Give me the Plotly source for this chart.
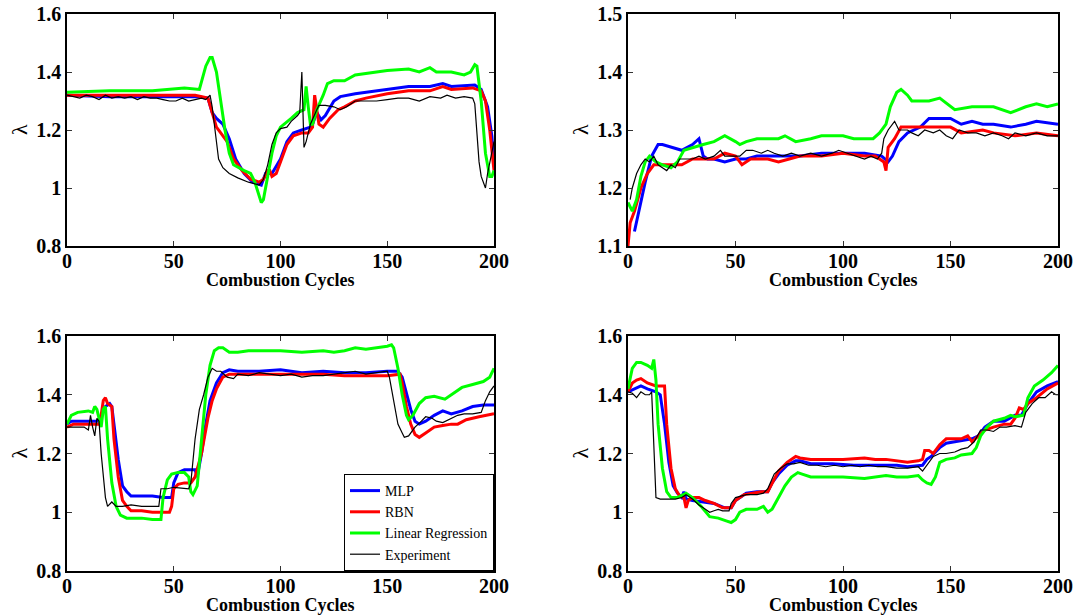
import plotly.graph_objects as go

# ---------------- DATA ----------------
# Panel 1 (top-left)
p1_mlp_x = [0, 20, 40, 60, 66, 68, 70, 73, 76, 79, 83, 87, 91, 93, 96, 100, 103, 106, 110, 114, 115, 117, 119, 121, 125, 128, 135, 140, 150, 160, 170, 176, 180, 188, 191, 194, 197, 199, 200]
p1_mlp_y = [1.32, 1.315, 1.315, 1.315, 1.31, 1.26, 1.24, 1.22, 1.17, 1.10, 1.05, 1.02, 1.01, 1.05, 1.05, 1.10, 1.16, 1.19, 1.20, 1.21, 1.22, 1.26, 1.235, 1.25, 1.30, 1.315, 1.325, 1.33, 1.34, 1.35, 1.35, 1.36, 1.35, 1.355, 1.355, 1.34, 1.28, 1.18, 1.08]
p1_rbn_x = [0, 20, 50, 60, 66, 68, 70, 72, 75, 78, 82, 86, 90, 92, 94, 95, 96, 98, 100, 103, 106, 110, 113, 115, 116, 117, 118, 120, 123, 127, 130, 135, 140, 150, 160, 170, 176, 180, 190, 194, 196, 198, 200]
p1_rbn_y = [1.32, 1.32, 1.32, 1.32, 1.31, 1.26, 1.21, 1.19, 1.16, 1.10, 1.06, 1.03, 1.02, 1.03, 1.06, 1.06, 1.04, 1.05, 1.09, 1.15, 1.18, 1.19, 1.19, 1.21, 1.32, 1.26, 1.22, 1.21, 1.24, 1.27, 1.28, 1.30, 1.31, 1.325, 1.335, 1.335, 1.35, 1.34, 1.345, 1.335, 1.30, 1.20, 1.06]
p1_lr_x = [0, 20, 40, 55, 62, 63, 65, 67, 68, 70, 72, 74, 76, 78, 83, 86, 88, 90, 91, 92, 94, 96, 98, 100, 105, 108, 111, 112, 113, 114, 115, 117, 120, 122, 125, 130, 135, 140, 150, 160, 165, 170, 173, 180, 186, 189, 191, 192, 194, 196, 198, 199, 200]
p1_lr_y = [1.33, 1.335, 1.335, 1.345, 1.34, 1.37, 1.42, 1.45, 1.45, 1.40, 1.30, 1.20, 1.12, 1.08, 1.06, 1.05, 1.02, 0.97, 0.95, 0.96, 1.04, 1.12, 1.18, 1.21, 1.24, 1.26, 1.27, 1.35, 1.28, 1.22, 1.22, 1.27, 1.32, 1.36, 1.37, 1.37, 1.39, 1.395, 1.405, 1.41, 1.40, 1.415, 1.40, 1.40, 1.39, 1.40, 1.425, 1.42, 1.30, 1.12, 1.04, 1.04, 1.06]
p1_exp_x = [0, 3, 6, 9, 12, 15, 18, 21, 24, 27, 30, 33, 36, 39, 42, 45, 48, 51, 54, 57, 60, 63, 65, 67, 68, 69, 70, 71, 73, 76, 80, 85, 90, 92, 94, 96, 98, 100, 103, 105, 108, 109, 110, 111, 112, 114, 117, 118, 121, 125, 128, 131, 135, 140, 145, 150, 155, 160, 165, 170, 175, 178, 182, 186, 190, 191, 192, 193, 194, 196, 197, 200]
p1_exp_y = [1.32, 1.315, 1.31, 1.32, 1.315, 1.305, 1.32, 1.31, 1.315, 1.31, 1.315, 1.305, 1.315, 1.31, 1.31, 1.305, 1.30, 1.30, 1.31, 1.30, 1.305, 1.31, 1.305, 1.32, 1.28, 1.22, 1.16, 1.10, 1.07, 1.05, 1.035, 1.02, 1.01, 1.03, 1.08, 1.15, 1.19, 1.205, 1.21, 1.23, 1.25, 1.26, 1.40, 1.14, 1.16, 1.22, 1.27, 1.285, 1.285, 1.28, 1.27, 1.28, 1.30, 1.30, 1.30, 1.305, 1.31, 1.31, 1.30, 1.315, 1.31, 1.32, 1.31, 1.315, 1.31, 1.29, 1.20, 1.09, 1.04, 1.00, 1.05, 1.16]

# Panel 2 (top-right)
p2_mlp_x = [3, 5, 8, 11, 14, 16, 20, 25, 30, 33, 35, 37, 40, 45, 50, 55, 60, 70, 80, 90, 100, 110, 118, 121, 123, 126, 130, 133, 136, 140, 145, 150, 155, 160, 165, 170, 178, 185, 190, 200]
p2_mlp_y = [1.125, 1.16, 1.21, 1.255, 1.275, 1.275, 1.27, 1.265, 1.275, 1.285, 1.255, 1.25, 1.25, 1.245, 1.25, 1.25, 1.255, 1.255, 1.255, 1.26, 1.26, 1.26, 1.255, 1.245, 1.255, 1.28, 1.295, 1.30, 1.305, 1.32, 1.32, 1.32, 1.31, 1.315, 1.31, 1.31, 1.305, 1.31, 1.315, 1.31]
p2_rbn_x = [0, 1, 3, 6, 9, 12, 16, 20, 25, 30, 35, 40, 45, 50, 53, 57, 65, 70, 75, 80, 90, 100, 110, 115, 119, 120, 121, 124, 127, 135, 140, 150, 155, 165, 170, 180, 190, 200]
p2_rbn_y = [1.10, 1.14, 1.16, 1.20, 1.225, 1.24, 1.24, 1.24, 1.24, 1.25, 1.25, 1.25, 1.26, 1.255, 1.24, 1.25, 1.25, 1.245, 1.25, 1.255, 1.255, 1.26, 1.255, 1.255, 1.245, 1.23, 1.27, 1.285, 1.305, 1.305, 1.305, 1.305, 1.295, 1.30, 1.295, 1.29, 1.295, 1.29]
p2_lr_x = [0, 2, 4, 6, 8, 10, 13, 16, 20, 23, 26, 30, 35, 40, 45, 50, 52, 55, 60, 65, 70, 73, 78, 85, 90, 100, 105, 110, 114, 117, 120, 122, 125, 127, 130, 132, 140, 145, 150, 152, 160, 170, 178, 185, 190, 195, 200]
p2_lr_y = [1.175, 1.16, 1.18, 1.22, 1.245, 1.255, 1.245, 1.24, 1.235, 1.245, 1.265, 1.27, 1.275, 1.28, 1.29, 1.28, 1.275, 1.28, 1.285, 1.285, 1.285, 1.29, 1.28, 1.285, 1.29, 1.29, 1.285, 1.285, 1.285, 1.295, 1.31, 1.34, 1.365, 1.37, 1.36, 1.35, 1.35, 1.355, 1.34, 1.335, 1.34, 1.34, 1.33, 1.34, 1.345, 1.34, 1.345]
p2_exp_x = [1, 2, 4, 6, 8, 10, 12, 14, 16, 18, 20, 22, 24, 26, 30, 33, 36, 40, 43, 45, 48, 52, 55, 58, 62, 65, 68, 72, 76, 80, 85, 90, 95, 98, 102, 106, 110, 113, 116, 118, 119, 121, 124, 126, 130, 132, 135, 138, 142, 145, 148, 151, 154, 158, 162, 166, 170, 174, 177, 180, 185, 190, 195, 200]
p2_exp_y = [1.18, 1.20, 1.225, 1.24, 1.25, 1.245, 1.255, 1.24, 1.235, 1.23, 1.24, 1.235, 1.25, 1.25, 1.25, 1.255, 1.25, 1.255, 1.265, 1.255, 1.255, 1.255, 1.265, 1.265, 1.26, 1.265, 1.26, 1.255, 1.26, 1.255, 1.26, 1.255, 1.26, 1.265, 1.26, 1.255, 1.25, 1.255, 1.25, 1.26, 1.285, 1.30, 1.315, 1.30, 1.30, 1.295, 1.29, 1.30, 1.295, 1.30, 1.29, 1.285, 1.30, 1.295, 1.295, 1.29, 1.295, 1.29, 1.285, 1.295, 1.29, 1.295, 1.29, 1.29]

# Panel 3 (bottom-left)
p3_mlp_x = [0, 2, 10, 15, 16, 18, 20, 21, 22, 24, 26, 28, 30, 35, 40, 45, 49, 50, 52, 55, 58, 60, 61, 63, 65, 67, 70, 73, 76, 80, 90, 100, 110, 120, 130, 140, 150, 155, 157, 159, 161, 163, 165, 168, 172, 176, 180, 185, 190, 195, 200]
p3_mlp_y = [1.30, 1.31, 1.31, 1.31, 1.33, 1.36, 1.37, 1.36, 1.30, 1.18, 1.09, 1.07, 1.055, 1.055, 1.055, 1.05, 1.05, 1.10, 1.135, 1.145, 1.145, 1.145, 1.12, 1.20, 1.30, 1.38, 1.44, 1.475, 1.485, 1.48, 1.48, 1.485, 1.475, 1.48, 1.475, 1.475, 1.48, 1.48, 1.46, 1.40, 1.35, 1.31, 1.30, 1.31, 1.33, 1.345, 1.335, 1.345, 1.36, 1.365, 1.365]
p3_rbn_x = [0, 3, 15, 16, 17, 18, 19, 21, 22, 24, 26, 28, 30, 35, 40, 45, 48, 49, 50, 52, 55, 58, 60, 63, 66, 68, 70, 73, 76, 80, 100, 120, 130, 140, 150, 156, 157, 159, 161, 163, 165, 168, 172, 176, 180, 183, 187, 193, 200]
p3_rbn_y = [1.29, 1.30, 1.30, 1.33, 1.38, 1.39, 1.37, 1.36, 1.25, 1.12, 1.04, 1.02, 1.005, 1.005, 1.0, 1.0, 1.0, 1.02, 1.08, 1.095, 1.10, 1.10, 1.12, 1.20, 1.32, 1.38, 1.42, 1.46, 1.47, 1.47, 1.47, 1.47, 1.465, 1.465, 1.465, 1.47, 1.44, 1.36, 1.30, 1.265, 1.255, 1.27, 1.29, 1.295, 1.30, 1.30, 1.315, 1.325, 1.335]
p3_lr_x = [0, 2, 5, 10, 12, 13, 14, 15, 16, 17, 18, 19, 21, 23, 25, 28, 35, 40, 44, 45, 47, 49, 52, 55, 57, 58, 59, 61, 63, 65, 67, 69, 71, 73, 76, 80, 85, 90, 100, 110, 120, 125, 130, 135, 140, 145, 150, 152, 153, 155, 157, 159, 160, 162, 165, 168, 172, 177, 180, 185, 190, 195, 198, 200]
p3_lr_y = [1.30, 1.33, 1.34, 1.345, 1.34, 1.36, 1.35, 1.32, 1.29, 1.35, 1.36, 1.25, 1.10, 1.02, 0.99, 0.98, 0.98, 0.975, 0.975, 1.05, 1.11, 1.13, 1.135, 1.135, 1.12, 1.07, 1.06, 1.09, 1.25, 1.40, 1.50, 1.55, 1.56, 1.56, 1.545, 1.545, 1.55, 1.55, 1.55, 1.545, 1.55, 1.545, 1.55, 1.56, 1.555, 1.56, 1.565, 1.57, 1.56, 1.49, 1.40, 1.33, 1.315, 1.33, 1.37, 1.39, 1.395, 1.385, 1.40, 1.425, 1.435, 1.445, 1.46, 1.49]
p3_exp_x = [0, 5, 8, 10, 11, 12, 13, 14, 15, 16, 18, 19, 21, 23, 26, 30, 35, 40, 43, 44, 47, 50, 55, 57, 58, 60, 62, 64, 66, 68, 70, 72, 75, 78, 80, 85, 90, 95, 100, 105, 110, 115, 120, 125, 130, 135, 140, 145, 150, 151, 153, 155, 157, 158, 160, 163, 166, 168, 171, 173, 176, 180, 183, 186, 190, 194, 196, 198, 200]
p3_exp_y = [1.29, 1.29, 1.29, 1.28, 1.33, 1.29, 1.26, 1.32, 1.31, 1.20, 1.05, 1.02, 1.035, 1.02, 1.02, 1.025, 1.02, 1.02, 1.02, 1.08, 1.08, 1.085, 1.08, 1.08, 1.10, 1.25, 1.35, 1.40, 1.46, 1.49, 1.48, 1.48, 1.46, 1.455, 1.47, 1.465, 1.475, 1.47, 1.465, 1.47, 1.46, 1.465, 1.465, 1.47, 1.475, 1.48, 1.47, 1.475, 1.48, 1.46, 1.38, 1.30, 1.27, 1.255, 1.26, 1.29, 1.31, 1.325, 1.32, 1.31, 1.305, 1.32, 1.33, 1.335, 1.335, 1.34, 1.38, 1.41, 1.43]

# Panel 4 (bottom-right)
p4_mlp_x = [0, 3, 6, 9, 13, 15, 17, 19, 21, 23, 25, 26, 27, 30, 35, 40, 45, 48, 50, 55, 60, 65, 67, 70, 74, 78, 80, 85, 95, 105, 115, 125, 130, 135, 137, 139, 141, 145, 148, 152, 156, 160, 163, 166, 170, 175, 180, 183, 186, 190, 195, 200]
p4_mlp_y = [1.41, 1.42, 1.43, 1.42, 1.41, 1.40, 1.30, 1.17, 1.09, 1.065, 1.05, 1.07, 1.045, 1.04, 1.035, 1.03, 1.015, 1.015, 1.04, 1.065, 1.07, 1.07, 1.10, 1.13, 1.16, 1.175, 1.175, 1.165, 1.165, 1.16, 1.16, 1.16, 1.155, 1.16, 1.16, 1.18, 1.19, 1.22, 1.235, 1.24, 1.245, 1.25, 1.26, 1.29, 1.31, 1.31, 1.33, 1.33, 1.37, 1.41, 1.43, 1.445]
p4_rbn_x = [0, 2, 4, 6, 9, 13, 15, 17, 18, 20, 22, 24, 26, 27, 28, 30, 33, 36, 40, 44, 48, 50, 54, 58, 62, 65, 67, 70, 74, 78, 80, 85, 90, 100, 110, 115, 120, 125, 130, 135, 137, 138, 140, 142, 145, 148, 152, 155, 158, 160, 163, 166, 170, 175, 178, 180, 182, 184, 186, 190, 195, 200]
p4_rbn_y = [1.41, 1.44, 1.45, 1.455, 1.44, 1.43, 1.43, 1.43, 1.30, 1.15, 1.08, 1.055, 1.05, 1.015, 1.04, 1.05, 1.05, 1.04, 1.03, 1.015, 1.015, 1.04, 1.06, 1.065, 1.07, 1.07, 1.10, 1.14, 1.17, 1.19, 1.185, 1.18, 1.18, 1.18, 1.185, 1.18, 1.18, 1.175, 1.17, 1.175, 1.18, 1.21, 1.21, 1.20, 1.23, 1.25, 1.25, 1.25, 1.26, 1.24, 1.26, 1.28, 1.29, 1.30, 1.30, 1.32, 1.355, 1.35, 1.37, 1.39, 1.42, 1.44]
p4_lr_x = [0, 2, 4, 6, 9, 11, 12, 13, 14, 16, 18, 20, 23, 27, 30, 34, 38, 42, 46, 48, 50, 52, 55, 60, 63, 65, 67, 70, 73, 76, 79, 81, 85, 90, 100, 110, 115, 120, 125, 130, 135, 137, 139, 141, 143, 145, 148, 152, 155, 160, 162, 164, 167, 170, 175, 178, 180, 184, 186, 189, 193, 197, 200]
p4_lr_y = [1.42, 1.49, 1.51, 1.51, 1.50, 1.49, 1.52, 1.45, 1.30, 1.15, 1.07, 1.05, 1.05, 1.065, 1.05, 1.02, 0.985, 0.98, 0.97, 0.965, 0.975, 1.0, 1.01, 1.01, 1.02, 1.0, 1.01, 1.05, 1.09, 1.12, 1.135, 1.13, 1.12, 1.12, 1.12, 1.115, 1.12, 1.125, 1.12, 1.12, 1.125, 1.11, 1.10, 1.095, 1.12, 1.17, 1.18, 1.185, 1.195, 1.20, 1.22, 1.26, 1.29, 1.31, 1.32, 1.33, 1.325, 1.33, 1.39, 1.43, 1.45, 1.475, 1.50]
p4_exp_x = [0, 2, 4, 6, 8, 10, 11, 12, 13, 15, 18, 22, 25, 27, 30, 33, 36, 38, 40, 42, 44, 47, 48, 50, 55, 60, 63, 65, 68, 71, 74, 77, 80, 84, 88, 92, 96, 100, 104, 108, 112, 116, 120, 125, 130, 135, 137, 139, 142, 145, 148, 152, 155, 158, 161, 164, 167, 170, 173, 176, 180, 183, 185, 188, 191, 194, 197, 199, 200]
p4_exp_y = [1.41, 1.405, 1.39, 1.41, 1.40, 1.40, 1.41, 1.25, 1.05, 1.045, 1.045, 1.045, 1.05, 1.06, 1.045, 1.025, 1.01, 1.0, 1.005, 1.01, 1.005, 1.005, 1.03, 1.05, 1.06, 1.06, 1.065, 1.08, 1.13, 1.15, 1.165, 1.165, 1.17, 1.16, 1.16, 1.155, 1.16, 1.155, 1.16, 1.155, 1.16, 1.155, 1.155, 1.15, 1.15, 1.155, 1.14, 1.16, 1.19, 1.20, 1.20, 1.205, 1.215, 1.22, 1.24, 1.28, 1.28, 1.275, 1.29, 1.29, 1.295, 1.29, 1.34, 1.37, 1.39, 1.39, 1.41, 1.40, 1.40]

series_names = ["MLP", "RBN", "Linear Regression", "Experiment"]
series_colors = ["#0000FF", "#FF0000", "#00FF00", "#000000"]
series_widths = [3, 3, 3, 1.2]

x_ticks = [0, 50, 100, 150, 200]
y_ticks_a = [0.8, 1.0, 1.2, 1.4, 1.6]
y_tick_text_a = ["0.8", "1", "1.2", "1.4", "1.6"]
y_ticks_b = [1.1, 1.2, 1.3, 1.4, 1.5]
y_tick_text_b = ["1.1", "1.2", "1.3", "1.4", "1.5"]
x_title = "Combustion Cycles"
y_title = "λ"

panels = [
    [(p1_mlp_x, p1_mlp_y), (p1_rbn_x, p1_rbn_y), (p1_lr_x, p1_lr_y), (p1_exp_x, p1_exp_y)],
    [(p2_mlp_x, p2_mlp_y), (p2_rbn_x, p2_rbn_y), (p2_lr_x, p2_lr_y), (p2_exp_x, p2_exp_y)],
    [(p3_mlp_x, p3_mlp_y), (p3_rbn_x, p3_rbn_y), (p3_lr_x, p3_lr_y), (p3_exp_x, p3_exp_y)],
    [(p4_mlp_x, p4_mlp_y), (p4_rbn_x, p4_rbn_y), (p4_lr_x, p4_lr_y), (p4_exp_x, p4_exp_y)],
]

# ---------------- FIGURE ----------------
W, H = 1080, 616
FONT = "Liberation Serif"

# pixel boxes (left, right, top, bottom)
boxes = [(67, 494, 14, 246), (628, 1058, 14, 246), (67, 494, 336, 571), (628, 1058, 336, 571)]

fig = go.Figure()
annotations = []
layout = dict(
    width=W, height=H, margin=dict(l=0, r=0, t=0, b=0, autoexpand=False),
    paper_bgcolor="white", plot_bgcolor="white",
    font=dict(family=FONT, color="black"),
    showlegend=True,
    legend=dict(
        x=494 / W, y=1 - 571 / H, xanchor="right", yanchor="bottom",
        bgcolor="white", bordercolor="black", borderwidth=1,
        font=dict(family=FONT, size=14, color="black"),
        tracegroupgap=0, itemwidth=30,
    ),
)

for i, panel in enumerate(panels):
    ax = "" if i == 0 else str(i + 1)
    for j, (xs, ys) in enumerate(panel):
        fig.add_trace(go.Scatter(
            x=xs, y=ys, mode="lines", name=series_names[j],
            line=dict(color=series_colors[j], width=series_widths[j]),
            xaxis="x" + ax, yaxis="y" + ax,
            showlegend=(i == 2),
        ))
    l, r, t, b = boxes[i]
    if i == 1:
        yr, yt, ytt = [1.1, 1.5], y_ticks_b, y_tick_text_b
    else:
        yr, yt, ytt = [0.8, 1.6], y_ticks_a, y_tick_text_a
    common = dict(
        showline=True, linecolor="black", linewidth=1.5, mirror="ticks",
        ticks="inside", ticklen=5, tickcolor="#333", showgrid=False, zeroline=False,
        automargin=False,
        tickfont=dict(family=FONT, size=20, color="black", weight="bold"),
    )
    layout["xaxis" + ax] = dict(
        domain=[l / W, r / W], range=[0, 200], tickvals=x_ticks,
        anchor="y" + ax, ticklabelstandoff=-4,
        **common,
    )
    layout["yaxis" + ax] = dict(
        domain=[1 - b / H, 1 - t / H], range=yr, tickvals=yt, ticktext=ytt,
        anchor="x" + ax,
        **common,
    )
    # axis titles as paper annotations
    annotations.append(dict(
        text=x_title, xref="paper", yref="paper",
        x=(l + r) / 2 / W, y=1 - (b + 34) / H, xanchor="center", yanchor="middle",
        showarrow=False, font=dict(family=FONT, size=18, color="black", weight="bold"),
    ))
    annotations.append(dict(
        text=y_title, xref="paper", yref="paper",
        x=(l - 48) / W, y=1 - (t + b) / 2 / H, xanchor="center", yanchor="middle",
        textangle=-90, showarrow=False,
        font=dict(family=FONT, size=22, color="black"),
    ))

layout["annotations"] = annotations
fig.update_layout(**layout)
fig.write_html("out.html")
